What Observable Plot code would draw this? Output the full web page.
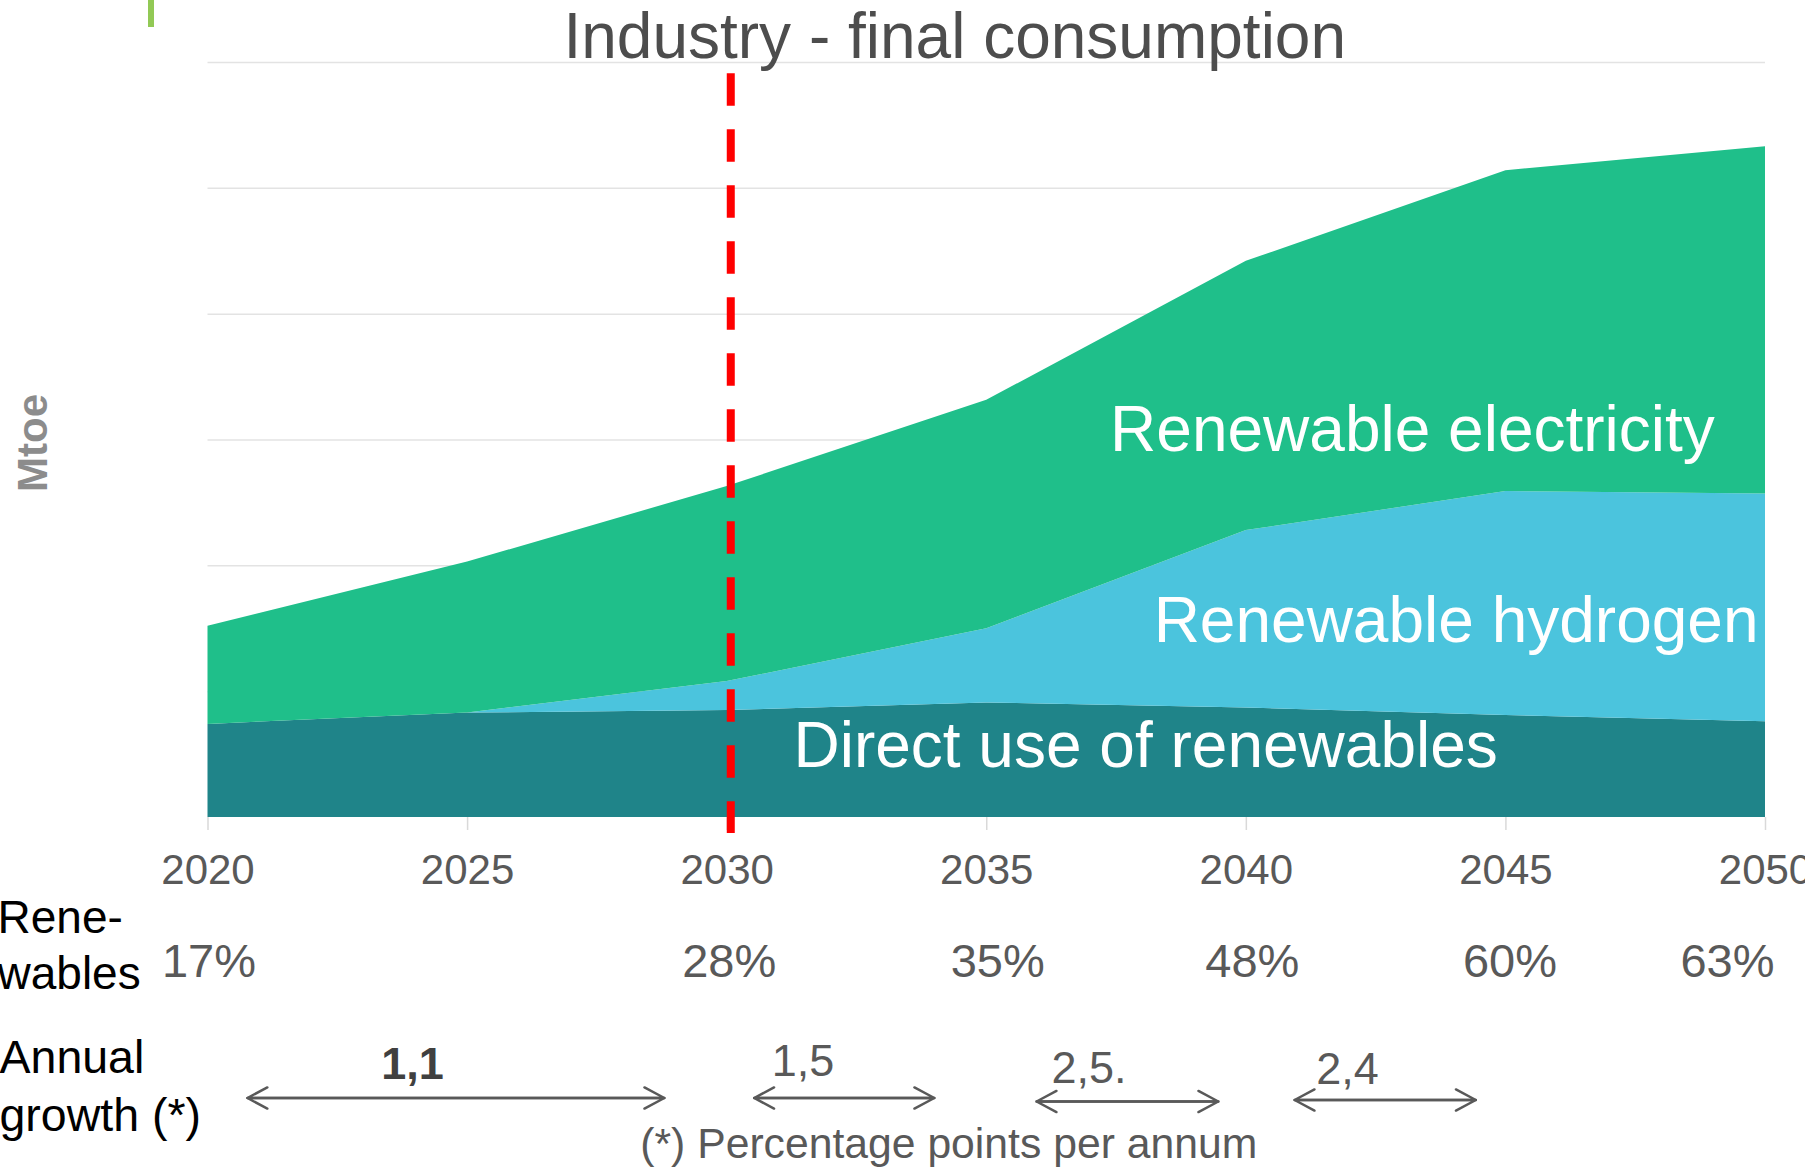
<!DOCTYPE html>
<html>
<head>
<meta charset="utf-8">
<script src="https://cdn.jsdelivr.net/npm/d3@7"></script>
<script src="https://cdn.jsdelivr.net/npm/@observablehq/plot@0.6"></script>
<style>
  html, body { margin: 0; padding: 0; background: #fff; overflow: hidden; }
  #wrap { position: relative; width: 1805px; height: 1167px; }
  #accent { position: absolute; left: 148px; top: 0; width: 6px; height: 27px; background: #92C955; }
</style>
</head>
<body>
<div id="wrap"><div id="chart"></div><div id="accent"></div></div>
<script>
// ---- data ----
const years = [2020, 2025, 2030, 2035, 2040, 2045, 2050];
const seriesNames = ["Direct use of renewables", "Renewable hydrogen", "Renewable electricity"];
const directUse   = [0.74, 0.83, 0.85, 0.91, 0.87, 0.81, 0.76];
const hydrogen    = [0.00, 0.00, 0.23, 0.59, 1.41, 1.78, 1.81];
const electricity = [0.78, 1.20, 1.55, 1.815, 2.14, 2.55, 2.76];
const gridLevels  = [1, 2, 3, 4, 5, 6];
const pctYears    = [2020, 2030, 2035, 2040, 2045, 2050];
const pctLabels   = ["17%", "28%", "35%", "48%", "60%", "63%"];
const growthLabels = ["1,1", "1,5", "2,5.", "2,4"];
const growthFrom   = [2020.76, 2030.52, 2035.96, 2040.93];
const growthTo     = [2028.79, 2033.99, 2039.46, 2044.42];
const policyYear   = 2030;
const titleText    = "Industry - final consumption";
const yLabel       = "Mtoe";
const footnote     = "(*) Percentage points per annum";

// ---- styling / layout ----
const colors = ["#1F8489", "#4BC4DD", "#1FBF8A"];
const FONT = "'Liberation Sans', Arial, Helvetica, sans-serif";
const GRAY = "#595959";
const areaLabelPos = [[2038.06, 0.405], [2044.04, 1.393], [2043.2, 2.909]];
const pctDx = [1, 2, 11, 6, 4, -38];
const growthLabelYear = [2023.94, 2031.46, 2036.97, 2041.95];
const growthLabelDy = [261, 258, 265, 266];
const arrowDy = [280.5, 280.5, 284, 282.5];

const table = [];
const values = [directUse, hydrogen, electricity];
seriesNames.forEach((s, k) => years.forEach((yr, i) => table.push({year: yr, series: s, value: values[k][i]})));

const marks = [
  Plot.ruleY(gridLevels, {y: d => d, stroke: "#e3e3e3", strokeWidth: 1.5}),
  Plot.ruleX(years, {x: d => d, y1: () => 0, y2: () => 0, insetBottom: -13, stroke: "#d9d9d9", strokeWidth: 1.5}),
  Plot.areaY(table, {x: "year", y: "value", z: "series", fill: "series"}),
  Plot.ruleX([policyYear], {x: d => d, dx: 3.6, stroke: "#FF0000", strokeWidth: 8, strokeDasharray: "32.5,23.5", insetTop: 11.3, insetBottom: -16}),
  // area labels
  ...seriesNames.map((s, i) => Plot.text([s], {x: () => areaLabelPos[i][0], y: () => areaLabelPos[i][1], text: d => d, fill: "white", fontSize: 64, lineAnchor: "bottom", fontFamily: FONT})),
  // title
  Plot.text([titleText], {frameAnchor: "top", text: d => d, dx: -32, dy: -4.7, lineAnchor: "bottom", fontSize: 64, fill: "#4d4d4d", fontFamily: FONT}),
  // y label
  Plot.text([yLabel], {frameAnchor: "left", text: d => d, textAnchor: "middle", dx: -174.5, dy: 3, rotate: -90, fontSize: 42, fontWeight: "bold", fill: "#8c8c8c", fontFamily: FONT}),
  // x tick labels
  Plot.text(years, {x: d => d, text: d => String(d), frameAnchor: "bottom", lineAnchor: "bottom", dy: 66.3, fontSize: 42, fill: GRAY, fontFamily: FONT}),
  // renewables share row
  Plot.text(["Rene-\nwables"], {frameAnchor: "bottom-left", text: d => d, textAnchor: "start", dx: -210.5, dy: 171.3, lineAnchor: "bottom", lineHeight: 1.21, fontSize: 46, fill: "#000", fontFamily: FONT}),
  ...pctLabels.map((t, i) => Plot.text([t], {x: () => pctYears[i], text: d => d, frameAnchor: "bottom", lineAnchor: "bottom", dx: pctDx[i], dy: 159.7, fontSize: 47, fill: GRAY, fontFamily: FONT})),
  // annual growth row
  Plot.text(["Annual\ngrowth (*)"], {frameAnchor: "bottom-left", text: d => d, textAnchor: "start", dx: -208.5, dy: 313, lineAnchor: "bottom", lineHeight: 1.235, fontSize: 46.5, fill: "#000", fontFamily: FONT}),
  ...growthLabels.map((t, i) => Plot.text([t], {x: () => growthLabelYear[i], text: d => d, frameAnchor: "bottom", lineAnchor: "bottom", dy: growthLabelDy[i], fontSize: 45, fontWeight: i === 0 ? "bold" : "normal", fill: i === 0 ? "#404040" : GRAY, fontFamily: FONT})),
  ...growthLabels.flatMap((t, i) => [
    Plot.arrow([t], {x1: () => growthFrom[i], x2: () => growthTo[i], y1: () => 0, y2: () => 0, dy: arrowDy[i], stroke: GRAY, strokeWidth: 2.5, headLength: 13.5, headAngle: 56}),
    Plot.arrow([t], {x1: () => growthTo[i], x2: () => growthFrom[i], y1: () => 0, y2: () => 0, dy: arrowDy[i], stroke: GRAY, strokeWidth: 2.5, headLength: 13.5, headAngle: 56})
  ]),
  Plot.text([footnote], {frameAnchor: "bottom", text: d => d, dx: -38, dy: 340, lineAnchor: "bottom", fontSize: 42.7, fill: GRAY, fontFamily: FONT})
];

const chart = Plot.plot({
  width: 1805,
  height: 1167,
  marginLeft: 207.5,
  marginRight: 40,
  marginTop: 62,
  marginBottom: 350,
  x: {domain: [2020, 2050], axis: null},
  y: {domain: [0, 6], axis: null},
  color: {domain: seriesNames, range: colors},
  style: {fontFamily: FONT, background: "white", overflow: "visible"},
  marks
});
document.getElementById("chart").appendChild(chart);
</script>
</body>
</html>
